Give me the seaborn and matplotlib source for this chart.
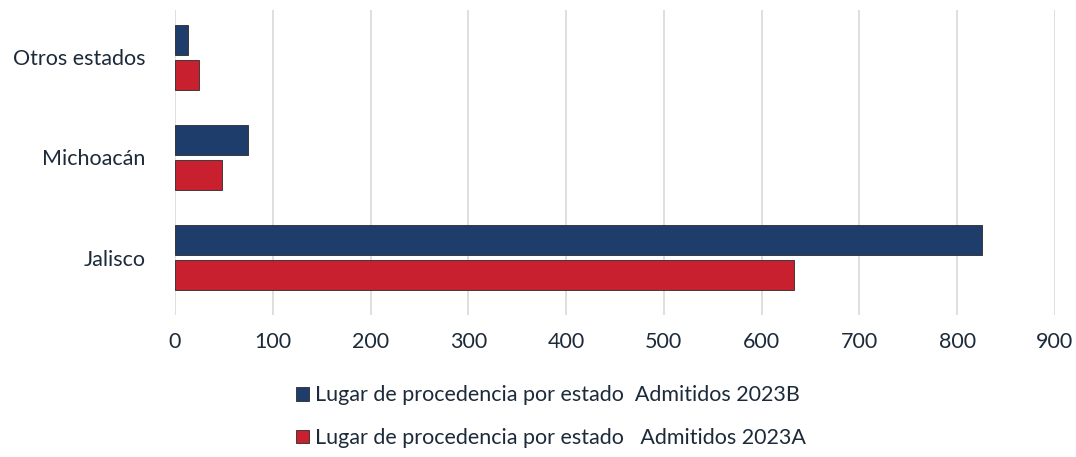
import pandas as pd
import matplotlib.pyplot as plt
import seaborn as sns
from matplotlib.patches import Patch

# data
estados = ['Otros estados', 'Michoacán', 'Jalisco']
admitidos_2023b = [13, 75, 825]
admitidos_2023a = [25, 48, 633]
serie_b = 'Lugar de procedencia por estado  Admitidos 2023B'
serie_a = 'Lugar de procedencia por estado   Admitidos 2023A'
ticks_x = [0, 100, 200, 300, 400, 500, 600, 700, 800, 900]

color_b = '#1f3d6b'
color_a = '#c8202f'
text_color = '#1c2a3a'

df = pd.DataFrame({
    'estado': estados * 2,
    'valor': admitidos_2023b + admitidos_2023a,
    'serie': [serie_b] * len(estados) + [serie_a] * len(estados),
})

sns.set_style('white')
plt.rcParams['font.family'] = ['Lato', 'DejaVu Sans']

fig = plt.figure(figsize=(10.76, 4.57), dpi=100)
ax = fig.add_axes([0.1626, 0.311, 0.8178, 0.667])

sns.barplot(data=df, y='estado', x='valor', hue='serie', order=estados,
            hue_order=[serie_b, serie_a], palette=[color_b, color_a],
            saturation=1, width=0.7, gap=0.14, orient='h', ax=ax,
            legend=False, edgecolor='#2a2a2a', linewidth=0.6)

ax.set_xlim(0, 900)
ax.set_ylim(2.57, -0.47)
ax.set_xticks(ticks_x)
ax.xaxis.grid(True, color='#d9d9d9', linewidth=1.2)
ax.set_axisbelow(True)
for s in ax.spines.values():
    s.set_visible(False)
ax.set_xlabel('')
ax.set_ylabel('')
ax.tick_params(axis='both', length=0, labelsize=15.5, colors=text_color)
ax.tick_params(axis='x', pad=12)
ax.tick_params(axis='y', pad=21)

handles = [Patch(facecolor=color_b, edgecolor='#2a2a2a', linewidth=0.6),
           Patch(facecolor=color_a, edgecolor='#2a2a2a', linewidth=0.6)]
fig.legend(handles, [serie_b, serie_a], loc='center', ncol=1,
           bbox_to_anchor=(0.512, 0.088), frameon=False, fontsize=15.5,
           labelcolor=text_color, handlelength=0.6, handleheight=0.6,
           handletextpad=0.25, labelspacing=1.05)

fig.savefig('out.png', dpi=100)
